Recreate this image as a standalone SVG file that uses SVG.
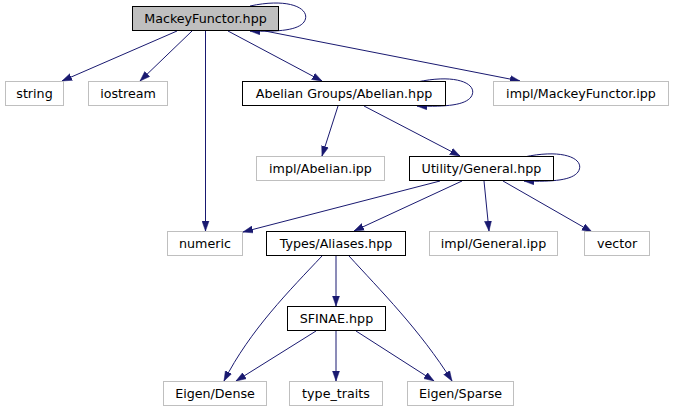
<svg xmlns="http://www.w3.org/2000/svg" width="675" height="412" viewBox="0 0 675 412">
<style>
  .n rect { fill: #ffffff; stroke: #000000; stroke-width: 1; }
  .leaf rect { stroke: #bfbfbf; }
  .root rect { fill: #bfbfbf; }
  text { font-family: "DejaVu Sans", sans-serif; font-size: 12.7px; fill: #000000; text-anchor: middle; }
  .e path { fill: none; stroke: #191970; stroke-width: 1; marker-end: url(#ah); }
</style>
<defs>
  <marker id="ah" markerUnits="userSpaceOnUse" markerWidth="11" markerHeight="8" refX="10" refY="4" orient="auto">
    <path d="M0,0.5 L10,4 L0,7.5 z" fill="#191970" stroke="#191970" stroke-width="0.5"/>
  </marker>
</defs>
<rect width="675" height="412" fill="#ffffff"/>
<g id="edges" class="e">
  <path d="M177,31 L62,81"/>
  <path d="M192,31 L140,81"/>
  <path d="M205.5,31 L205.5,231"/>
  <path d="M228,31 L322,81"/>
  <path d="M265,31 L520,81"/>
  <path d="M250,6 C292,-3 312,10 304,22 C298,30 280,32 250,31"/>
  <path d="M417,82 C459,73 479,85 471,97 C465,105 447,107 417,106"/>
  <path d="M338,106 L322,156"/>
  <path d="M364,106 L460,156"/>
  <path d="M524,157 C566,148 586,160 578,172 C572,180 554,182 524,181"/>
  <path d="M440,181 L243,232"/>
  <path d="M462,181 L354,231"/>
  <path d="M484,181 L489,231"/>
  <path d="M503,181 L592,232"/>
  <path d="M336,256 L336,306"/>
  <path d="M322,256 C290,290 250,330 224,381"/>
  <path d="M349,256 C380,290 420,330 452,381"/>
  <path d="M316,331 L236,381"/>
  <path d="M336,331 L336,381"/>
  <path d="M356,331 L434,381"/>
</g>
<g id="mackeyfunctor" class="n root"><rect x="132.5" y="6.5" width="146" height="24"/><text x="205.5" y="23">MackeyFunctor.hpp</text></g>
<g id="string" class="n leaf"><rect x="5.5" y="81.5" width="58" height="24"/><text x="34.5" y="98">string</text></g>
<g id="iostream" class="n leaf"><rect x="88.5" y="81.5" width="79" height="24"/><text x="128" y="98">iostream</text></g>
<g id="abelian" class="n"><rect x="242.5" y="81.5" width="203" height="24"/><text x="344" y="98">Abelian Groups/Abelian.hpp</text></g>
<g id="impl_mackey" class="n leaf"><rect x="493.5" y="81.5" width="175" height="24"/><text x="581" y="98">impl/MackeyFunctor.ipp</text></g>
<g id="impl_abelian" class="n leaf"><rect x="256.5" y="156.5" width="128" height="24"/><text x="320.5" y="173">impl/Abelian.ipp</text></g>
<g id="general" class="n"><rect x="409.5" y="156.5" width="144" height="24"/><text x="481.5" y="173">Utility/General.hpp</text></g>
<g id="numeric" class="n leaf"><rect x="167.5" y="231.5" width="75" height="24"/><text x="205" y="248">numeric</text></g>
<g id="aliases" class="n"><rect x="266.5" y="231.5" width="139" height="24"/><text x="336" y="248">Types/Aliases.hpp</text></g>
<g id="impl_general" class="n leaf"><rect x="429.5" y="231.5" width="128" height="24"/><text x="493.5" y="248">impl/General.ipp</text></g>
<g id="vector" class="n leaf"><rect x="584.5" y="231.5" width="65" height="24"/><text x="617" y="248">vector</text></g>
<g id="sfinae" class="n"><rect x="287.5" y="306.5" width="98" height="24"/><text x="336.5" y="323">SFINAE.hpp</text></g>
<g id="eigen_dense" class="n leaf"><rect x="163.5" y="381.5" width="103" height="24"/><text x="215" y="398">Eigen/Dense</text></g>
<g id="type_traits" class="n leaf"><rect x="289.5" y="381.5" width="93" height="24"/><text x="336" y="398">type_traits</text></g>
<g id="eigen_sparse" class="n leaf"><rect x="407.5" y="381.5" width="106" height="24"/><text x="460.5" y="398">Eigen/Sparse</text></g>
</svg>
